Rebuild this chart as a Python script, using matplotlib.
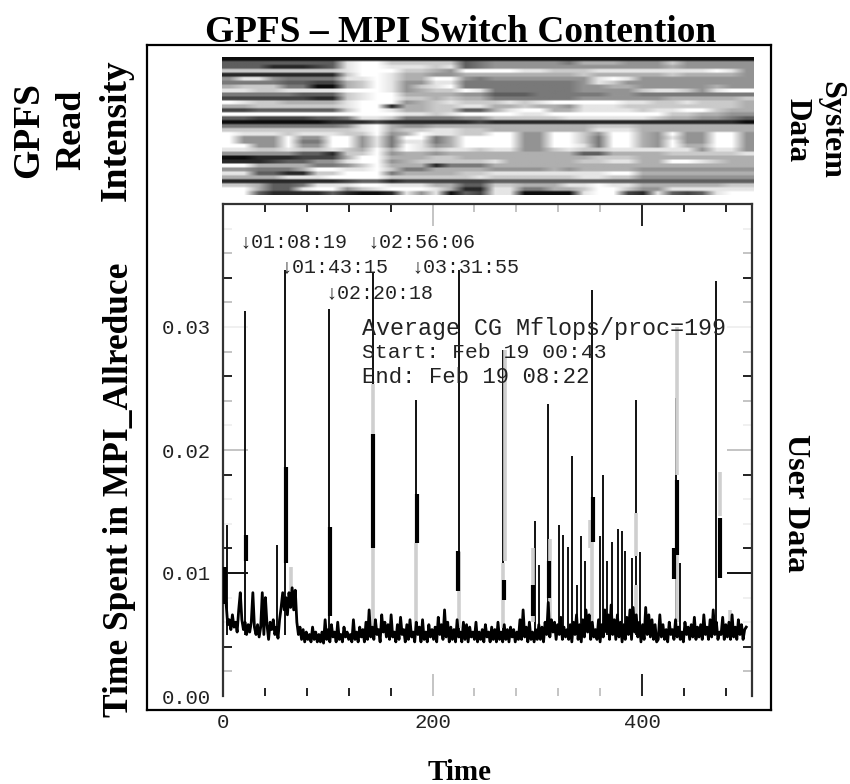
"""
GPFS - MPI switch contention: read intensity map over MPI_Allreduce time trace
"""
import numpy as np
import matplotlib
matplotlib.use("Agg")
import matplotlib.pyplot as plt

W, H = 850, 784

# grey level of the read intensity map, 0 black .. 9 white
heat_rows = [
    "000000000000000000000000000000000000",
    "333333338997777734555554666555755555",
    "333111238998887834555555555555655555",
    "777777778999776599998877788888888985",
    "111111117998665566666666766666766665",
    "588544448898669954555555589855555555",
    "444433226798558844444444587555555555",
    "677744006798578944444444556655555655",
    "887788889998567798444444555578875899",
    "444443337899666655333444445544444444",
    "222222117899776766444444555555666667",
    "987766668999567877787899999887787776",
    "667777778991667788667665888777777776",
    "223333337998667733689966888878899766",
    "999999999999887899998899999999776655",
    "332222334887444455777778888887665543",
    "000000011121111112111111111111111110",
    "444444445896556666666666677766666666",
    "777777777896778877666666688866666666",
    "988878887795698877995599759965955995",
    "955595599584994699995599749965855995",
    "955594499584884699995599749965955995",
    "995595599584985699995599849965966995",
    "887787787696987887885578778888885885",
    "555553317795665666666666336666777778",
    "001112226996667766666666677766666666",
    "111233558995677777866666778866998766",
    "996666445796661444666666666666666666",
    "554446998897446666555565666655555555",
    "883311779994666677888888889966666666",
    "666688899997777778777777887755555555",
    "111111112331222222333333333333333333",
    "776334888998886633776668898866666677",
    "996338995789998611884466799755888888",
    "993111131001858032880000899218323899",
]

# noise floor of the trace, units of 1e-4 s
base_vals = [
    75, 58, 62, 54, 66, 56, 60, 52, 70, 84, 62, 54, 60, 50, 58, 52, 60, 84, 56, 50,
    58, 48, 56, 84, 50, 80, 58, 46, 60, 54, 62, 50, 56, 47, 62, 72, 84, 70, 80, 66,
    84, 72, 88, 70, 86, 60, 50, 56, 46, 54, 44, 52, 46, 50, 44, 56, 46, 52, 44, 50,
    44, 52, 43, 62, 46, 54, 44, 58, 48, 52, 44, 60, 46, 50, 44, 56, 48, 52, 46, 50,
    44, 62, 46, 52, 44, 56, 48, 54, 44, 60, 46, 70, 48, 56, 46, 62, 50, 54, 44, 66,
    52, 60, 48, 58, 46, 66, 48, 52, 44, 58, 46, 64, 50, 54, 44, 58, 46, 62, 48, 52,
    44, 60, 50, 56, 44, 62, 46, 52, 44, 58, 48, 54, 46, 56, 44, 64, 50, 58, 46, 70,
    48, 60, 44, 56, 46, 54, 44, 62, 48, 52, 44, 60, 46, 58, 44, 56, 48, 52, 46, 60,
    44, 52, 46, 54, 44, 58, 48, 52, 44, 56, 46, 54, 44, 60, 46, 52, 44, 58, 46, 54,
    44, 56, 48, 54, 44, 52, 46, 62, 46, 70, 48, 56, 44, 60, 46, 52, 44, 54, 46, 58,
    46, 56, 44, 60, 50, 76, 48, 62, 52, 60, 46, 58, 50, 64, 46, 56, 48, 54, 46, 58,
    44, 60, 50, 66, 46, 58, 44, 62, 48, 70, 52, 66, 46, 60, 48, 54, 46, 62, 44, 58,
    48, 70, 52, 66, 46, 74, 50, 62, 46, 66, 48, 60, 44, 58, 46, 64, 50, 70, 46, 72,
    52, 66, 48, 60, 44, 58, 46, 72, 50, 66, 48, 62, 46, 58, 44, 46, 66, 48, 58, 46,
    54, 44, 60, 50, 54, 46, 62, 48, 56, 46, 52, 44, 60, 50, 56, 46, 58, 48, 64, 46,
    56, 48, 58, 46, 66, 50, 56, 46, 62, 48, 70, 50, 60, 46, 52, 50, 64, 46, 58, 48,
    60, 46, 66, 48, 56, 46, 62, 50, 58, 46, 54, 56,
]
base_start = 3.0
base_step = 1.5

# sharp peaks: thin black line up to the top
spike_x = [21, 59, 101, 143, 184, 225, 267, 310, 352, 394, 432.5, 470.6, 4, 52,
           298, 302, 321, 325, 329, 333, 338, 342, 346, 360, 363, 367, 371, 377, 381, 384, 390, 398, 436]
spike_top = [.0313, .0346, .0315, .0345, .0241, .0346, .0281, .0237, .0330, .0241, .0242, .0337, .0139, .0123,
             .01425, .01068, .0139, .0131, .0121, .0195, .0090, .0130, .0110, .0130, .0180, .0110, .0125, .0136,
             .0134, .0118, .0112, .0117, .0108]

# heavier stretches of the same peaks
thick_x = [1.5, 22, 60, 102, 143, 185, 268, 311, 353, 433, 474, 296, 431, 224]
thick_top = [.0105, .0131, .0186, .0137, .0213, .0164, .0094, .0110, .0162, .0176, .0145, .0090, .0120, .0118]
thick_low = [.0075, .0110, .0108, .0065, .0120, .0124, .0078, .0080, .0125, .0115, .0096, .0065, .0095, .0085]

# pale grey companion series, drawn over the thin peaks
grey_x = [143, 143, 184, 225, 269, 267, 352, 350, 394, 394, 433, 433, 474, 312, 296, 484, 65]
grey_top = [.0254, .0120, .0124, .0117, .0281, .0108, .0125, .0143, .0149, .0090, .0300, .0115, .0182, .0128, .0120, .0070, .0105]
grey_low = [.0213, .0050, .0050, .0055, .0110, .0055, .0055, .0120, .0114, .0055, .0180, .0060, .0146, .0060, .0060, .0055, .0075]

x_major = [0, 200, 400]
x_minor = [40, 80, 120, 160, 240, 280, 320, 360, 440, 480]
x_minor_cols = ["#222222"] * 4 + ["#c4c4c4"] * 4 + ["#222222"] * 2
x_major_cols = ["#222222", "#c4c4c4", "#222222"]
y_major = [0.0, 0.01, 0.02, 0.03]
y_major_cols = ["#ffffff", "#111111", "#c4c4c4", "#f0f0f0"]
y_minor = [.002, .004, .006, .008, .012, .014, .016, .018, .022, .024, .026, .028, .032, .034, .036, .038]
y_minor_cols = ["#c4c4c4", "#222222", "#f0f0f0", "#f0f0f0", "#222222", "#f0f0f0", "#f0f0f0", "#222222",
                "#f0f0f0", "#c4c4c4", "#222222", "#c4c4c4", "#c4c4c4", "#222222", "#c4c4c4", "#f0f0f0"]

SERIF = "Liberation Serif"
MONO = ["Liberation Mono", "DejaVu Sans Mono"]


def box(left, top, right, bottom):
    return [left / W, 1 - bottom / H, (right - left) / W, (bottom - top) / H]


def label(px, py, s, size=25.5, rotation=0):
    fig.text(px / W, 1 - py / H, s, family=SERIF, fontweight="bold", fontsize=size,
             rotation=rotation, ha="center", va="center", color="black")


fig = plt.figure(figsize=(W / 100, H / 100), dpi=100, facecolor="white")

# outer frame
outer = fig.add_axes(box(147, 45, 771, 710))
outer.set_xticks([])
outer.set_yticks([])
for s in outer.spines.values():
    s.set_linewidth(1.6)

# system data map, rows doubled so the dark lines stay thin
heat = np.array([[int(c) for c in row] for row in heat_rows])
heat = np.repeat(heat, 2, axis=0)
ax_map = fig.add_axes(box(222, 57, 753, 195))
ax_map.imshow(heat, cmap="gray", vmin=-0.5, vmax=9, aspect="auto", interpolation="bilinear")
ax_map.axis("off")

# user data trace
ax = fig.add_axes(box(223, 204, 752, 696))
base_x = base_start + np.arange(len(base_vals)) * base_step
base_y = np.array(base_vals) * 1e-4
ax.vlines(spike_x, 0.005, spike_top, color="#111111", linewidth=1.4, zorder=2)
ax.vlines(grey_x, grey_low, grey_top, color="#cfcfcf", linewidth=2.6, zorder=2.5)
ax.plot(base_x, base_y, color="black", linewidth=2.0, zorder=3)
ax.vlines(thick_x, thick_low, thick_top, color="black", linewidth=3, zorder=3)

ax.set_xlim(0, 505)
ax.set_ylim(0, 0.04)
ax.spines["bottom"].set_visible(False)
for side in ("left", "right", "top"):
    ax.spines[side].set_color("#333333")
    ax.spines[side].set_linewidth(1.6)

ax.set_xticks(x_major)
ax.set_xticks(x_minor, minor=True)
ax.set_yticks(y_major)
ax.set_yticks(y_minor, minor=True)
ax.set_xticklabels(["0", "200", "400"], family=MONO, fontsize=14.8, color="#222222")
ax.set_yticklabels(["0.00", "0.01", "0.02", "0.03"], family=MONO, fontsize=14.8, color="#222222")
ax.tick_params(axis="x", which="major", direction="in", length=16, width=1.4, top=True, pad=12)
ax.tick_params(axis="x", which="minor", direction="in", length=6, width=1.4, top=True)
ax.tick_params(axis="y", which="major", direction="in", length=18, width=1.4, right=True, pad=9)
ax.tick_params(axis="y", which="minor", direction="in", length=6.5, width=1.4, right=True)

tick_sets = [
    (ax.xaxis.get_major_ticks(), x_major_cols),
    (ax.xaxis.get_minor_ticks(), x_minor_cols),
    (ax.yaxis.get_major_ticks(), y_major_cols),
    (ax.yaxis.get_minor_ticks(), y_minor_cols),
]
for ticks, cols in tick_sets:
    for t, c in zip(ticks, cols):
        t.tick1line.set_markeredgecolor(c)
        t.tick2line.set_markeredgecolor(c)

# elapsed time marks and run details
stamps = [
    (16, .0369, "↓01:08:19"),
    (138, .0369, "↓02:56:06"),
    (55, .0349, "↓01:43:15"),
    (180, .0349, "↓03:31:55"),
    (98, .0328, "↓02:20:18"),
]
for x, y, s in stamps:
    ax.text(x, y, s, family=MONO, fontsize=14.4, color="#222222", va="center", zorder=4)
ax.text(133, .0299, "Average CG Mflops/proc=199", family=MONO, fontsize=16.8, color="#222222", va="center", zorder=4)
ax.text(133, .0279, "Start: Feb 19 00:43", family=MONO, fontsize=15.4, color="#222222", va="center", zorder=4)
ax.text(133, .0259, "End: Feb 19 08:22", family=MONO, fontsize=16, color="#222222", va="center", zorder=4)

# surrounding labels
label(461, 32, "GPFS – MPI Switch Contention", size=26.9)
label(29, 130, "GPFS", size=27, rotation=90)
label(72, 130, "Read", size=26, rotation=90)
label(116, 130, "Intensity", size=27, rotation=90)
label(120, 490, "Time Spent in MPI_Allreduce", rotation=90)
label(831, 130, "System", size=23, rotation=270)
label(797, 130, "Data", size=22.5, rotation=270)
label(795, 503, "User Data", size=23.2, rotation=270)
label(460, 772, "Time", size=21)

fig.savefig("out.png", dpi=100)
